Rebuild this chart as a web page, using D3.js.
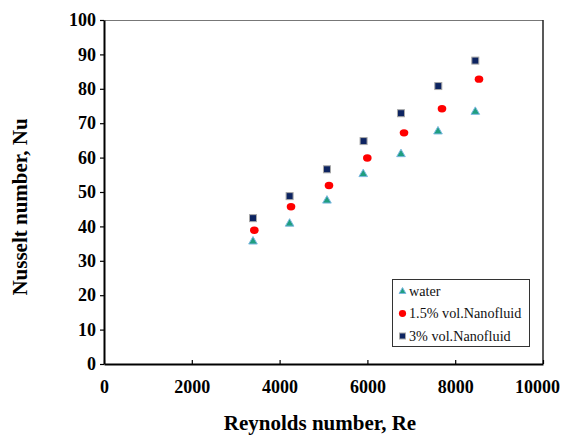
<!DOCTYPE html>
<html lang="en">
<head>
    <meta charset="UTF-8">
    <title>Nusselt vs Reynolds</title>
    <script src="https://cdn.jsdelivr.net/npm/d3@7"></script>
    <style>
        body { margin: 0; background: #fff; }
        text { font-family: "Liberation Serif", "Times New Roman", serif; }
        .axis text { font-size: 18px; font-weight: bold; fill: #000; }
        .axis path, .axis line { stroke: #000; }
    </style>
</head>
<body>
<div id="container"></div>
<script>
    // values
    const reWater = [3394, 4228, 5079, 5905, 6765, 7608, 8458]
    const nuWater = [35.6, 40.8, 47.5, 55.2, 61.0, 67.6, 73.3]
    const reNf15 = [3424, 4260, 5125, 5998, 6834, 7699, 8542]
    const nuNf15 = [38.9, 45.7, 51.9, 59.9, 67.2, 74.2, 82.8]
    const reNf3 = [3394, 4228, 5079, 5913, 6765, 7615, 8458]
    const nuNf3 = [42.4, 48.8, 56.6, 64.8, 72.9, 80.8, 88.2]
    const xTicks = [0, 2000, 4000, 6000, 8000, 10000]
    const yTicks = [0, 10, 20, 30, 40, 50, 60, 70, 80, 90, 100]
    const seriesNames = ['water', '1.5% vol.Nanofluid', '3% vol.Nanofluid']

    const width = 563, height = 436
    const plotL = 104, plotR = 543, plotT = 20, plotB = 364

    const svg = d3.select('#container').append('svg').attr('width', width).attr('height', height)

    const x = d3.scaleLinear().domain([0, 10000]).range([plotL, plotR])
    const y = d3.scaleLinear().domain([0, 100]).range([plotB, plotT])

    // frame: top thin gray, right black
    svg.append('line').attr('x1', plotL).attr('x2', plotR).attr('y1', plotT + 0.5).attr('y2', plotT + 0.5)
        .attr('stroke', '#777').attr('stroke-width', 1)
    svg.append('line').attr('x1', plotR).attr('x2', plotR).attr('y1', plotT).attr('y2', plotB)
        .attr('stroke', '#222').attr('stroke-width', 1.5)

    const xAxis = svg.append('g').attr('class', 'axis').attr('transform', `translate(0,${plotB})`)
        .call(d3.axisBottom(x).tickValues(xTicks).tickFormat(d3.format('d'))
            .tickSizeInner(-4).tickSizeOuter(0).tickPadding(16))
    xAxis.select('.domain').attr('stroke-width', 2)
    xAxis.selectAll('.tick line').attr('stroke-width', 1.2)
    // last label is pulled inside the window, like the original
    xAxis.selectAll('.tick text').filter(d => d === 10000).attr('dx', -6)

    const yAxis = svg.append('g').attr('class', 'axis').attr('transform', `translate(${plotL},0)`)
        .call(d3.axisLeft(y).tickValues(yTicks).tickSizeInner(4).tickSizeOuter(0).tickPadding(4))
    yAxis.select('.domain').attr('stroke-width', 2)
    yAxis.selectAll('.tick line').attr('stroke-width', 1.2)

    // titles
    svg.append('text').attr('x', 320).attr('y', 430).attr('text-anchor', 'middle')
        .attr('font-size', 21).attr('font-weight', 'bold').text('Reynolds number, Re')
    svg.append('text').attr('transform', 'translate(27,207) rotate(-90)').attr('text-anchor', 'middle')
        .attr('font-size', 21).attr('font-weight', 'bold').text('Nusselt number, Nu')

    // markers
    const tri = d3.symbol().type(d3.symbolTriangle).size(32)
    svg.append('g').selectAll('path').data(d3.zip(reWater, nuWater)).join('path')
        .attr('d', tri).attr('transform', d => `translate(${x(d[0])},${y(d[1])})`)
        .attr('fill', '#1f9e80').attr('stroke', '#7ab8e0').attr('stroke-width', 1)

    svg.append('g').selectAll('ellipse').data(d3.zip(reNf15, nuNf15)).join('ellipse')
        .attr('cx', d => x(d[0])).attr('cy', d => y(d[1])).attr('rx', 4.3).attr('ry', 3.7)
        .attr('fill', '#ff0000')

    svg.append('g').selectAll('rect').data(d3.zip(reNf3, nuNf3)).join('rect')
        .attr('x', d => x(d[0]) - 3.5).attr('y', d => y(d[1]) - 3.5).attr('width', 7).attr('height', 7)
        .attr('fill', '#0d2461').attr('stroke', '#a8a8a8').attr('stroke-width', 1)

    // legend
    const lg = svg.append('g').attr('transform', 'translate(392,279)')
    lg.append('rect').attr('x', 0.5).attr('y', 0.5).attr('width', 137).attr('height', 67)
        .attr('fill', '#fff').attr('stroke', '#333').attr('stroke-width', 1)
    const rowY = [12.5, 34.5, 57]
    lg.append('path').attr('d', d3.symbol().type(d3.symbolTriangle).size(20))
        .attr('transform', `translate(10.5,${rowY[0]})`).attr('fill', '#1f9e80').attr('stroke', '#7ab8e0')
    lg.append('ellipse').attr('cx', 10.5).attr('cy', rowY[1]).attr('rx', 3.6).attr('ry', 3.4).attr('fill', '#ff0000')
    lg.append('rect').attr('x', 7.5).attr('y', rowY[2] - 3).attr('width', 6).attr('height', 6)
        .attr('fill', '#0d2461').attr('stroke', '#a8a8a8')
    lg.selectAll('text.lbl').data(seriesNames).join('text').attr('class', 'lbl')
        .attr('x', 17).attr('y', (d, i) => rowY[i] + 4.5)
        .attr('font-size', 14.2).attr('fill', '#111').text(d => d)
</script>
</body>
</html>
